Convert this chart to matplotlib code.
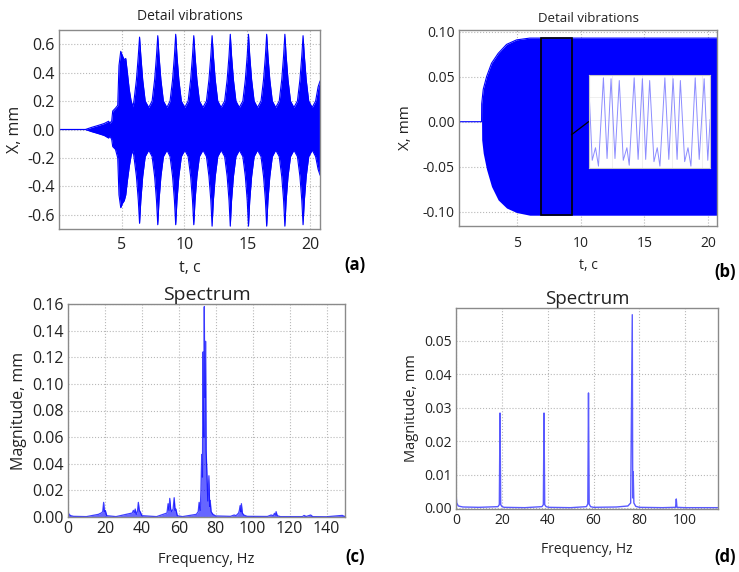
import matplotlib
matplotlib.use("Agg")
import matplotlib.pyplot as plt
from matplotlib.patches import Rectangle

plt.rcParams['font.family'] = ['Open Sans', 'DejaVu Sans']
plt.rcParams['axes.unicode_minus'] = False

# ---- (a) detail vibrations: envelope of the signal, mm
a_t = [0.0, 2.1, 2.6, 3.1, 3.6, 3.95, 4.05, 4.2, 4.28, 4.5, 4.68, 4.78, 4.92, 5.05, 5.2, 5.32, 5.45, 5.6, 5.75, 5.9,
       5.97, 6.17, 6.32, 6.42, 6.52, 6.67, 6.87, 7.15,
       7.42, 7.62, 7.77, 7.87, 7.97, 8.12, 8.32, 8.6,
       8.85, 9.05, 9.2, 9.3, 9.4, 9.55, 9.75, 10.02,
       10.29, 10.49, 10.64, 10.74, 10.84, 10.99, 11.19, 11.47,
       11.75, 11.95, 12.1, 12.2, 12.3, 12.45, 12.65, 12.92,
       13.2, 13.4, 13.55, 13.65, 13.75, 13.9, 14.1, 14.37,
       14.65, 14.85, 15.0, 15.1, 15.2, 15.35, 15.55, 15.82,
       16.1, 16.3, 16.45, 16.55, 16.65, 16.8, 17.0, 17.27,
       17.55, 17.75, 17.9, 18.0, 18.1, 18.25, 18.45, 18.72,
       19.0, 19.2, 19.35, 19.45, 19.55, 19.7, 19.9, 20.18,
       20.45, 20.65, 20.8]
a_top = [0, 0, 0.015, 0.028, 0.042, 0.058, 0.045, 0.06, 0.13, 0.15, 0.17, 0.45, 0.55, 0.52, 0.49, 0.50, 0.40, 0.28, 0.20, 0.16,
         0.2, 0.35, 0.52, 0.65, 0.52, 0.35, 0.2, 0.155,
         0.2, 0.35, 0.52, 0.66, 0.52, 0.35, 0.2, 0.155,
         0.2, 0.35, 0.52, 0.67, 0.52, 0.35, 0.2, 0.155,
         0.2, 0.35, 0.52, 0.66, 0.52, 0.35, 0.2, 0.155,
         0.2, 0.35, 0.52, 0.66, 0.52, 0.35, 0.2, 0.155,
         0.2, 0.35, 0.52, 0.67, 0.52, 0.35, 0.2, 0.155,
         0.2, 0.35, 0.52, 0.67, 0.52, 0.35, 0.2, 0.155,
         0.2, 0.35, 0.52, 0.67, 0.52, 0.35, 0.2, 0.155,
         0.2, 0.35, 0.52, 0.67, 0.52, 0.35, 0.2, 0.155,
         0.2, 0.35, 0.52, 0.66, 0.52, 0.35, 0.2, 0.155,
         0.2, 0.3, 0.34]
a_bot = [0, 0, -0.015, -0.028, -0.042, -0.06, -0.045, -0.07, -0.12, -0.14, -0.20, -0.46, -0.55, -0.52, -0.50, -0.46, -0.36, -0.26, -0.18, -0.145,
         -0.19, -0.33, -0.5, -0.66, -0.5, -0.33, -0.19, -0.145,
         -0.19, -0.33, -0.5, -0.67, -0.5, -0.33, -0.19, -0.145,
         -0.19, -0.33, -0.5, -0.67, -0.5, -0.33, -0.19, -0.145,
         -0.19, -0.33, -0.5, -0.67, -0.5, -0.33, -0.19, -0.145,
         -0.19, -0.33, -0.5, -0.68, -0.5, -0.33, -0.19, -0.145,
         -0.19, -0.33, -0.5, -0.68, -0.5, -0.33, -0.19, -0.145,
         -0.19, -0.33, -0.5, -0.68, -0.5, -0.33, -0.19, -0.145,
         -0.19, -0.33, -0.5, -0.68, -0.5, -0.33, -0.19, -0.145,
         -0.19, -0.33, -0.5, -0.68, -0.5, -0.33, -0.19, -0.145,
         -0.19, -0.33, -0.5, -0.67, -0.5, -0.33, -0.19, -0.145,
         -0.19, -0.28, -0.32]

# ---- (b) detail vibrations: envelope, mm
b_t = [0.47, 2.24, 2.25, 2.37, 2.63, 3.02, 3.54, 4.2, 4.98, 6.02, 6.6, 20.7]
b_top = [0, 0, 0.02, 0.036, 0.05, 0.065, 0.076, 0.086, 0.091, 0.093, 0.093, 0.093]
b_bot = [0, 0, -0.02, -0.035, -0.053, -0.072, -0.087, -0.096, -0.101, -0.104, -0.104, -0.104]
b_zoom_t = [6.88, 9.3]          # zoomed window
# waveform shown in the zoom window (ms, mm)
w_t = [0, 6.1, 11.6, 16.6, 24.9, 31.0, 37.7, 44.3, 51.5, 58.2, 64.3, 68.2, 76.5, 83.1, 90.3, 95.8,
       102.5, 109.7, 115.2, 119.7, 128.0, 134.6, 141.8, 148.5, 154.0, 161.2, 166.8, 171.7,
       178.9, 185.6, 193.9, 200.0, 203.9]
w_x = [0.087, -0.091, -0.063, -0.104, 0.093, -0.087, 0.091, -0.087, 0.087, -0.091, -0.063, -0.102,
       0.093, -0.089, 0.091, -0.089, 0.087, -0.094, -0.063, -0.104, 0.093, -0.089, 0.091, -0.089,
       0.087, -0.094, -0.063, -0.104, 0.093, -0.089, 0.091, -0.091, 0.0]

# ---- (c) spectrum
c_f = [0, 0.5, 1.5, 3, 10, 16.5, 17.2, 18, 18.8, 19.3, 19.7, 20.2, 21, 26,
       34.8, 35.4, 36.0, 36.4, 37.0, 37.6, 38.1, 38.6, 39.1, 40, 48,
       53.6, 54.2, 54.7, 55.1, 55.6, 56.2, 56.9, 57.5, 58.0, 58.4, 59.2, 62,
       69.5, 70.5, 71.0, 71.6, 72.0, 72.4, 72.8, 73.1, 73.5, 73.8, 74.1, 74.5, 74.8,
       75.2, 75.7, 76.3, 76.7, 77.0, 77.5, 78.5, 80, 88,
       90, 91, 92.4, 92.8, 93.2, 93.6, 93.9, 94.4, 95.2, 97, 108,
       110, 111.2, 111.8, 112.3, 112.7, 113.3, 115, 127, 127.8, 129, 131.4, 132.5, 140, 148.5, 150]
c_mag = [0.0045, 0.002, 0.001, 0.0005, 0.0003, 0.002, 0.0025, 0.003, 0.004, 0.011, 0.004, 0.005, 0.001, 0.0003,
         0.003, 0.005, 0.0035, 0.006, 0.002, 0.004, 0.011, 0.005, 0.004, 0.001, 0.0003,
         0.003, 0.010, 0.005, 0.014, 0.006, 0.004, 0.006, 0.0145, 0.005, 0.006, 0.001, 0.0003,
         0.002, 0.004, 0.011, 0.005, 0.02, 0.047, 0.03, 0.124, 0.06, 0.158, 0.09, 0.132, 0.05,
         0.034, 0.012, 0.031, 0.008, 0.0125, 0.004, 0.002, 0.0008, 0.0005,
         0.0015, 0.001, 0.003, 0.005, 0.0085, 0.004, 0.010, 0.003, 0.0015, 0.0005, 0.0004,
         0.0015, 0.001, 0.0028, 0.0015, 0.004, 0.001, 0.0003, 0.0003, 0.0012, 0.0004, 0.0015, 0.0003, 0.0002, 0.0012, 0.0003]

# ---- (d) spectrum
d_f = [0, 0.3, 1.0, 3, 10, 18.3, 18.9, 19.2, 19.5, 20.1, 21, 30,
       37.5, 38.1, 38.4, 38.7, 39.3, 40.5, 50,
       56.9, 57.5, 57.8, 58.1, 58.7, 60, 70,
       75, 76.2, 76.9, 77.1, 77.3, 77.6, 78.4, 80, 90,
       95.8, 96.1, 96.4, 100, 114.3]
d_mag = [0.0045, 0.0015, 0.0006, 0.0003, 0.0002, 0.0004, 0.001, 0.0284, 0.001, 0.0004, 0.0002, 0.0001,
         0.0004, 0.001, 0.0284, 0.001, 0.0004, 0.0002, 0.0001,
         0.0004, 0.0012, 0.0344, 0.0012, 0.0004, 0.0002, 0.0003,
         0.0006, 0.0015, 0.0578, 0.003, 0.0108, 0.0015, 0.0005, 0.0002, 0.0001,
         0.0002, 0.0027, 0.0002, 0.0001, 0.0001]

W, H = 739, 572
fig = plt.figure(figsize=(W / 100, H / 100), dpi=100)


def px_axes(l, t, r, b):
    return fig.add_axes([l / W, 1 - b / H, (r - l) / W, (b - t) / H])


def style(ax, fs, xpad=3):
    ax.grid(True, linestyle=':', color='#b8b8b8', linewidth=0.8)
    ax.set_axisbelow(True)
    for s in ax.spines.values():
        s.set_color('#8a8a8a')
        s.set_linewidth(1.0)
    ax.tick_params(length=0, labelsize=fs, colors='#222222', pad=3)
    ax.tick_params(axis='x', pad=xpad)


txt = '#222222'

# (a)
ax = px_axes(59, 30, 320, 229)
ax.fill_between(a_t, a_bot, a_top, color='#0000ff', linewidth=0)
ax.plot(a_t, a_top, color='#0000ff', lw=0.8)
ax.plot(a_t, a_bot, color='#0000ff', lw=0.8)
ax.set_xlim(0, 20.8)
ax.set_ylim(-0.70, 0.70)
ax.set_xticks([5, 10, 15, 20])
ax.set_yticks([-0.6, -0.4, -0.2, 0.0, 0.2, 0.4, 0.6])
ax.yaxis.set_major_formatter(plt.FormatStrFormatter('%.1f'))
style(ax, 11.5, xpad=6)
ax.set_title('Detail vibrations', fontsize=10, color=txt, pad=7)
ax.set_xlabel('t, c', fontsize=11.5, color=txt, labelpad=5)
ax.set_ylabel('X, mm', fontsize=11.5, color=txt, labelpad=3)

# (b)
ax = px_axes(459, 30, 717, 226)
ax.fill_between(b_t, b_bot, b_top, color='#0000ff', linewidth=0)
ax.plot(b_t, b_top, color='#0000ff', lw=0.8)
ax.set_xlim(0.47, 20.7)
ax.set_ylim(-0.116, 0.102)
ax.set_xticks([5, 10, 15, 20])
ax.set_yticks([-0.10, -0.05, 0.0, 0.05, 0.10])
ax.yaxis.set_major_formatter(plt.FormatStrFormatter('%.2f'))
style(ax, 10, xpad=7)
ax.add_patch(Rectangle((b_zoom_t[0], b_bot[-1]), b_zoom_t[1] - b_zoom_t[0], b_top[-1] - b_bot[-1],
                       fill=False, edgecolor='black', lw=1.2, zorder=4))
ins_l, ins_r, ins_b, ins_t = 10.63, 20.16, -0.052, 0.0514
ax.plot([b_zoom_t[1], ins_l], [-0.0144, 0.0], color='black', lw=0.9, zorder=4)
ins = ax.inset_axes([ins_l, ins_b, ins_r - ins_l, ins_t - ins_b], transform=ax.transData, zorder=5)
ins.plot(w_t, w_x, color='#8c8cff', lw=0.7)
ins.set_xlim(w_t[0], w_t[-1])
ins.set_ylim(-0.1092, 0.0982)
ins.set_xticks([40, 90, 140, 190])
ins.set_yticks([-0.05, 0.0, 0.05])
ins.tick_params(length=0, labelbottom=False, labelleft=False)
ins.grid(True, color='#ececec', linewidth=0.6)
for s in ins.spines.values():
    s.set_color('#c8c8c8')
    s.set_linewidth(0.8)
ax.set_title('Detail vibrations', fontsize=9.5, color=txt, pad=6)
ax.set_xlabel('t, c', fontsize=10, color=txt, labelpad=5)
ax.set_ylabel('X, mm', fontsize=11, color=txt, labelpad=7)

# (c)
ax = px_axes(68, 304, 345, 517)
ax.fill_between(c_f, 0, c_mag, color='#0000ff', alpha=0.6, linewidth=0)
ax.plot(c_f, c_mag, color='#0000ff', lw=0.9, alpha=0.75)
ax.set_xlim(0, 150)
ax.set_ylim(0, 0.16)
ax.set_xticks(range(0, 141, 20))
ax.set_yticks([0.0, 0.02, 0.04, 0.06, 0.08, 0.10, 0.12, 0.14, 0.16])
ax.yaxis.set_major_formatter(plt.FormatStrFormatter('%.2f'))
style(ax, 11.5)
ax.set_title('Spectrum', fontsize=14, color=txt, pad=2)
ax.set_xlabel('Frequency, Hz', fontsize=10.5, color=txt, labelpad=11)
ax.set_ylabel('Magnitude, mm', fontsize=11.5, color=txt, labelpad=4)

# (d)
ax = px_axes(456, 308, 718, 509)
ax.plot(d_f, d_mag, color='#3c3cff', lw=1.0, alpha=0.85)
ax.set_xlim(0, 114.3)
ax.set_ylim(-0.0003, 0.0598)
ax.set_xticks(range(0, 101, 20))
ax.set_yticks([0.0, 0.01, 0.02, 0.03, 0.04, 0.05])
ax.yaxis.set_major_formatter(plt.FormatStrFormatter('%.2f'))
style(ax, 10)
ax.set_title('Spectrum', fontsize=13.5, color=txt, pad=2)
ax.set_xlabel('Frequency, Hz', fontsize=10, color=txt, labelpad=10)
ax.set_ylabel('Magnitude, mm', fontsize=10.5, color=txt, labelpad=4)

for lab, x, y in [('(a)', 355, 265), ('(b)', 725, 272), ('(c)', 355, 557), ('(d)', 725, 557)]:
    fig.text(x / W, 1 - y / H, lab, fontsize=12, fontweight='bold', color='black',
             ha='center', va='center')

fig.savefig('out.png', dpi=100)
